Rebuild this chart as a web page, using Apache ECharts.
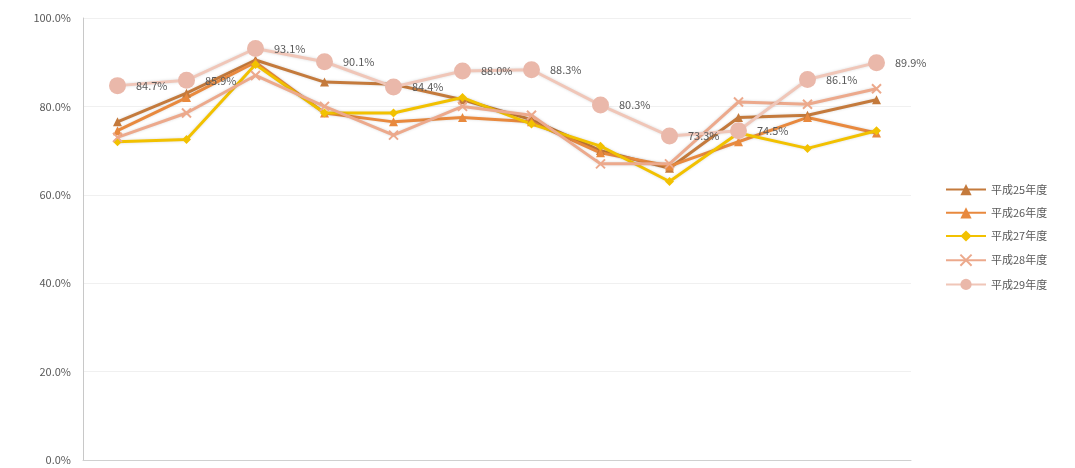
<!DOCTYPE html>
<html>
    <head>
        <meta charset="utf-8">
        <script src="https://cdn.jsdelivr.net/npm/echarts@6/dist/echarts.min.js"></script>
        <style>
            html, body { margin: 0; padding: 0; background: #fff; }
            #main { width: 1075px; height: 468px; }
        </style>
    </head>
    <body>
        <div id="main"></div>
        <script>
            // 月別（4月〜3月）
            var months = ['4月', '5月', '6月', '7月', '8月', '9月', '10月', '11月', '12月', '1月', '2月', '3月'];
            var seriesNames = ['平成25年度', '平成26年度', '平成27年度', '平成28年度', '平成29年度'];
            var h25 = [76.5, 83.0, 90.5, 85.5, 85.0, 81.5, 77.0, 70.0, 66.0, 77.5, 78.0, 81.5];
            var h26 = [74.5, 82.0, 90.0, 78.5, 76.5, 77.5, 76.5, 69.5, 66.5, 72.0, 77.5, 74.0];
            var h27 = [72.0, 72.5, 89.5, 78.5, 78.5, 82.0, 76.0, 71.0, 63.0, 74.0, 70.5, 74.5];
            var h28 = [73.0, 78.5, 87.0, 80.0, 73.5, 80.0, 78.0, 67.0, 67.0, 81.0, 80.5, 84.0];
            var h29 = [84.7, 85.9, 93.1, 90.1, 84.4, 88.0, 88.3, 80.3, 73.3, 74.5, 86.1, 89.9];
            var yTicks = [0, 20, 40, 60, 80, 100];

            var colors = ['#c47a3c', '#e8893e', '#f2c100', '#eca98c', '#f0c6b8'];
            var font = '"Noto Sans CJK JP", "Noto Sans", sans-serif';

            var chart = echarts.init(document.getElementById('main'));

            function lineSeries(name, data, color, symbol, size) {
                return {
                    name: name,
                    type: 'line',
                    data: data,
                    symbol: symbol,
                    symbolSize: size,
                    lineStyle: { width: 3, color: color, shadowColor: 'rgba(0,0,0,0.15)', shadowBlur: 3 },
                    itemStyle: { color: color },
                    emphasis: { disabled: true }
                };
            }

            var series = [
                lineSeries(seriesNames[0], h25, colors[0], 'triangle', 9),
                lineSeries(seriesNames[1], h26, colors[1], 'triangle', 9),
                lineSeries(seriesNames[2], h27, colors[2], 'diamond', 9),
                lineSeries(seriesNames[3], h28, colors[3], 'path://M0,0L10,10M10,0L0,10', 9),
                lineSeries(seriesNames[4], h29, colors[4], 'circle', 17)
            ];
            series[3].itemStyle = { color: colors[3], borderColor: colors[3], borderWidth: 2 };
            series[4].itemStyle = { color: '#eab8aa' };
            series[4].label = {
                show: true,
                position: 'right',
                distance: 10,
                color: '#595959',
                fontSize: 11,
                fontFamily: font,
                formatter: function (p) { return p.value.toFixed(1) + '%'; }
            };

            var option = {
                animation: false,
                textStyle: { fontFamily: font },
                grid: { left: 83, right: 164, top: 18, bottom: 8, containLabel: false },
                legend: {
                    orient: 'vertical',
                    left: 940,
                    top: 179,
                    itemGap: 12,
                    itemWidth: 40,
                    itemHeight: 14,
                    textStyle: { color: '#595959', fontSize: 11, fontFamily: font },
                    data: seriesNames
                },
                xAxis: {
                    type: 'category',
                    data: months,
                    boundaryGap: true,
                    axisLine: { lineStyle: { color: '#d0d0d0' } },
                    axisTick: { show: false },
                    axisLabel: { show: false },
                    splitLine: { show: false }
                },
                yAxis: {
                    type: 'value',
                    min: yTicks[0],
                    max: yTicks[yTicks.length - 1],
                    interval: 20,
                    axisLine: { show: true, lineStyle: { color: '#c8c8c8' } },
                    axisTick: { show: false },
                    axisLabel: {
                        color: '#595959',
                        fontSize: 11,
                        margin: 12,
                        formatter: function (v) { return v.toFixed(1) + '%'; }
                    },
                    splitLine: { lineStyle: { color: '#f0f0f0' } }
                },
                series: series
            };

            chart.setOption(option);
        </script>
    </body>
</html>
